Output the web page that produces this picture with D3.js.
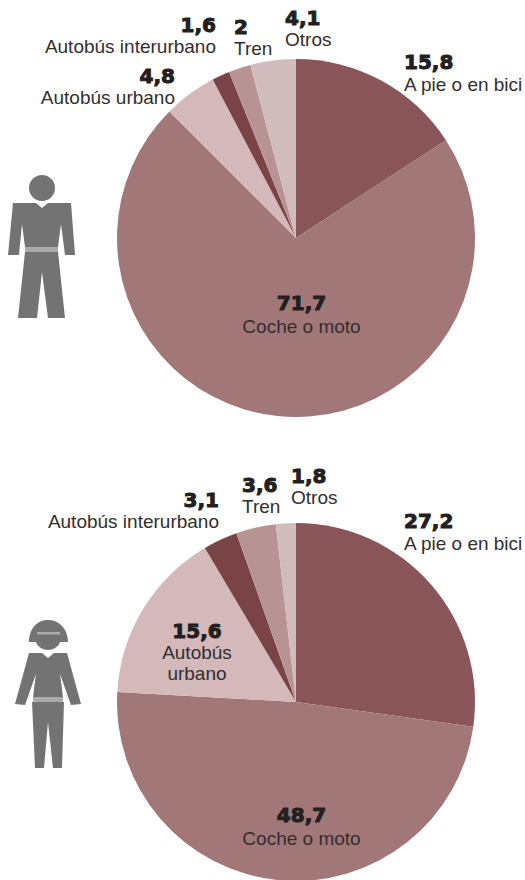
<!DOCTYPE html>
<html lang="es">
<head>
<meta charset="utf-8">
<title>Modo de transporte por sexo</title>
<script src="https://cdn.jsdelivr.net/npm/d3@7/dist/d3.min.js"></script>
<style>
html,body{margin:0;padding:0;background:#fff}
svg{display:block}
.name{font-family:"Liberation Sans",Arial,sans-serif;font-size:19px;fill:#332e2f}
.num{font-family:"DejaVu Sans",sans-serif;font-weight:700;font-size:20px;fill:#231f20;stroke:#231f20;stroke-width:1px}
</style>
</head>
<body>
<svg id="chart" width="525" height="880"></svg>
<script>
// Reparto modal en porcentaje, en sentido horario desde las 12
const categories = ["A pie o en bici", "Coche o moto", "Autobús urbano", "Autobús interurbano", "Tren", "Otros"];
const menValues = [15.8, 71.7, 4.8, 1.6, 2, 4.1];
const womenValues = [27.2, 48.7, 15.6, 3.1, 3.6, 1.8];
const sliceColors = ["#8a5558", "#a27777", "#d4b8ba", "#7a4345", "#b89393", "#d1bcbd"];

const menLabels = [
  {x: 404, y: 69, gap: 22, anchor: "start", num: 0, lines: ["A pie o en bici"]},
  {x: 301.5, y: 310, gap: 23, anchor: "middle", num: 1, lines: ["Coche o moto"]},
  {x: 175, y: 83, gap: 21, anchor: "end", num: 2, lines: ["Autobús urbano"]},
  {x: 216, y: 32, gap: 21, anchor: "end", num: 3, lines: ["Autobús interurbano"]},
  {x: 234, y: 34, gap: 21, anchor: "start", num: 4, lines: ["Tren"]},
  {x: 285, y: 25, gap: 21, anchor: "start", num: 5, lines: ["Otros"]}
];
const womenLabels = [
  {x: 404, y: 528, gap: 22, anchor: "start", num: 0, lines: ["A pie o en bici"]},
  {x: 301.5, y: 822, gap: 23, anchor: "middle", num: 1, lines: ["Coche o moto"]},
  {x: 197, y: 638, gap: 21, anchor: "middle", num: 2, lines: ["Autobús", "urbano"]},
  {x: 219, y: 507, gap: 21, anchor: "end", num: 3, lines: ["Autobús interurbano"]},
  {x: 242, y: 492, gap: 21, anchor: "start", num: 4, lines: ["Tren"]},
  {x: 291, y: 483, gap: 21, anchor: "start", num: 5, lines: ["Otros"]}
];

const svg = d3.select("#chart");
const radius = 179;
const pie = d3.pie().sort(null).value(d => d);
const arc = d3.arc().innerRadius(0).outerRadius(radius);
const color = d3.scaleOrdinal(d3.range(categories.length), sliceColors);
const fmt = v => String(v).replace(".", ",");

function drawPie(values, cx, cy, labels) {
  svg.append("g").attr("transform", `translate(${cx},${cy})`)
    .selectAll("path").data(pie(values)).join("path")
    .attr("d", arc).attr("fill", d => color(d.index));
  labels.forEach(l => {
    const t = svg.append("text").attr("text-anchor", l.anchor);
    t.append("tspan").attr("class", "num").attr("x", l.x).attr("y", l.y).text(fmt(values[l.num]));
    l.lines.forEach((line, i) => {
      t.append("tspan").attr("class", "name").attr("x", l.x).attr("y", l.y + l.gap + i * 21).text(line);
    });
  });
}

drawPie(menValues, 296, 238, menLabels);
drawPie(womenValues, 296, 702, womenLabels);

// Pictogramas de hombre y mujer
const defs = svg.append("defs");
defs.append("filter").attr("id", "soft").append("feGaussianBlur").attr("stdDeviation", 0.7);
const icons = svg.append("g").attr("filter", "url(#soft)");
const dark = "#737373", light = "#ababab";

// Hombre
icons.append("circle").attr("cx", 42).attr("cy", 188).attr("r", 13).attr("fill", dark);
icons.append("path").attr("fill", dark)
  .attr("d", "M13,203H36L42,208L48,203H71L75,255H65L61,224L58,247H25L22,224L19,255H8Z");
icons.append("rect").attr("x", 25).attr("y", 247).attr("width", 33).attr("height", 5).attr("fill", light);
icons.append("path").attr("fill", dark)
  .attr("d", "M25,252H58L65,318H48L42,272L37,318H18Z");

// Mujer
icons.append("path").attr("fill", dark)
  .attr("d", "M48,620C60,620 68,630 68,642H60C59,646 54,650 48,650C42,650 37,646 36,642H29C29,630 36,620 48,620Z");
icons.append("rect").attr("x", 37).attr("y", 632).attr("width", 23).attr("height", 2.5).attr("fill", light);
icons.append("path").attr("fill", dark)
  .attr("d", "M29,653H42L48,658L54,653H67L81,704L71,705L60,674L63,697H33L36,674L25,705L15,704Z");
icons.append("rect").attr("x", 33).attr("y", 697).attr("width", 30).attr("height", 5).attr("fill", light);
icons.append("path").attr("fill", dark)
  .attr("d", "M32,702H64L62,768H53L48,722L44,768H35Z");
</script>
</body>
</html>
